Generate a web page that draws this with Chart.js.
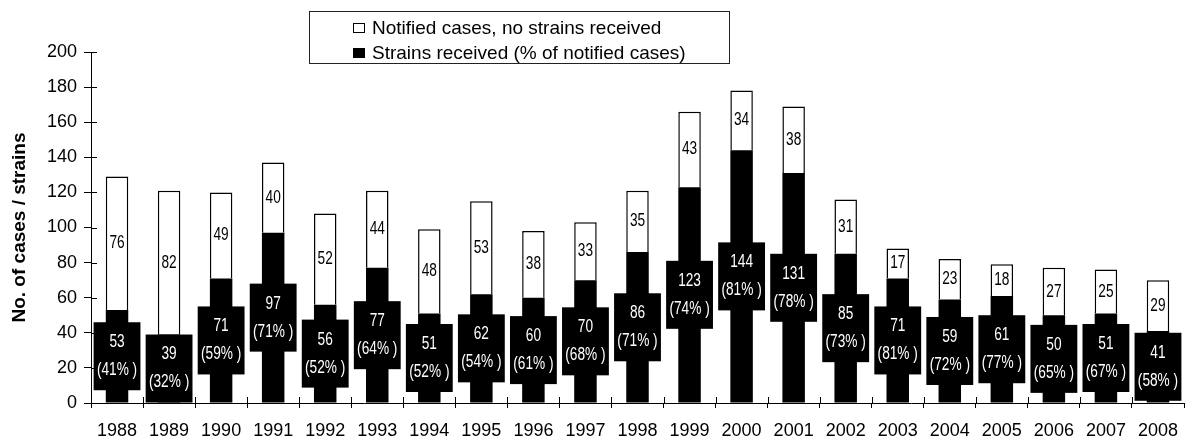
<!DOCTYPE html>
<html>
<head>
<meta charset="utf-8">
<title>Notified cases and strains received, 1988–2008</title>
<script src="https://cdn.jsdelivr.net/npm/chart.js@4.4.1/dist/chart.umd.min.js"></script>
<style>
  html, body { margin: 0; padding: 0; background: #fff; }
  #wrap { position: relative; width: 1190px; height: 442px; overflow: hidden; }
  #chart { position: absolute; left: 0; top: 0; }
  #legend {
    position: absolute; left: 309px; top: 11px; width: 421px; height: 53px;
    box-sizing: border-box; border: 1px solid #222; background: #fff;
    font-family: "Liberation Sans", Arial, sans-serif; font-size: 19px; color: #000;
  }
  #legend .row {
    position: absolute; left: 43px; height: 25px; line-height: 25px;
    display: flex; align-items: center; white-space: nowrap;
  }
  #legend .swatch {
    display: inline-block; width: 12px; height: 10px; box-sizing: border-box;
    border: 1px solid #000; margin-right: 7px;
  }
</style>
</head>
<body>
<div id="wrap">
  <canvas id="chart" width="1190" height="442"></canvas>
  <div id="legend"></div>
</div>
<script>
// Reporting years
const years = ['1988','1989','1990','1991','1992','1993','1994','1995','1996','1997','1998',
               '1999','2000','2001','2002','2003','2004','2005','2006','2007','2008'];

// Cases for which a strain was received
const strainsReceived = [53, 39, 71, 97, 56, 77, 51, 62, 60, 70, 86, 123, 144, 131, 85, 71, 59, 61, 50, 51, 41];

// Notified cases without a strain
const noStrains = [76, 82, 49, 40, 52, 44, 48, 53, 38, 33, 35, 43, 34, 38, 31, 17, 23, 18, 27, 25, 29];

// Strains received as a share of notified cases (%)
const strainPct = [41, 32, 59, 71, 52, 64, 52, 54, 61, 68, 71, 74, 81, 78, 73, 81, 72, 77, 65, 67, 58];

// Value axis
const yMin = 0, yMax = 200, yStep = 20;

const seriesNames = ['Notified cases, no strains received', 'Strains received (% of notified cases)'];
const axisTitle = 'No. of cases / strains';

// Value labels use a narrowed sans face
const labelFont = '18px "Liberation Sans", Arial, sans-serif';
const labelSqueeze = 0.76;

function narrowText(ctx, text, x, y) {
  ctx.save();
  ctx.translate(x, y);
  ctx.scale(labelSqueeze, 1);
  ctx.fillText(text, 0, 0);
  ctx.restore();
}

// Draws the value labels: a black box with count and share on the lower
// segment, and the count of the upper segment in its middle.
const barLabels = {
  id: 'barLabels',
  afterDatasetsDraw(chart) {
    const ctx = chart.ctx;
    const slot = chart.scales.x.width / chart.data.labels.length;
    const lower = chart.getDatasetMeta(0).data;
    const upper = chart.getDatasetMeta(1).data;
    ctx.save();
    ctx.font = labelFont;
    ctx.textAlign = 'center';
    ctx.textBaseline = 'middle';
    lower.forEach((bar, i) => {
      const cy = (bar.y + bar.base) / 2;
      const w = slot * 0.9, h = 68;
      ctx.fillStyle = '#000';
      ctx.fillRect(bar.x - w / 2, cy - h / 2, w, h);
      ctx.fillStyle = '#fff';
      narrowText(ctx, String(strainsReceived[i]), bar.x, cy - 14);
      narrowText(ctx, '(' + strainPct[i] + '% )', bar.x, cy + 14);
    });
    upper.forEach((bar, i) => {
      const cy = (bar.y + bar.base) / 2;
      ctx.fillStyle = '#000';
      narrowText(ctx, String(noStrains[i]), bar.x, cy);
    });
    ctx.restore();
  }
};

// Tick marks cross the axis lines: add the part inside the plot area.
const innerTicks = {
  id: 'innerTicks',
  afterDraw(chart) {
    const ctx = chart.ctx;
    const x = chart.scales.x, y = chart.scales.y;
    const area = chart.chartArea;
    ctx.save();
    ctx.strokeStyle = '#000';
    ctx.lineWidth = 1;
    ctx.beginPath();
    y.ticks.forEach(t => {
      const py = Math.round(y.getPixelForValue(t.value)) + 0.5;
      ctx.moveTo(area.left, py);
      ctx.lineTo(area.left + 6, py);
    });
    const n = chart.data.labels.length;
    const slot = x.width / n;
    for (let i = 0; i < n; i++) {
      const px = Math.round(x.left + i * slot) + 0.5;
      ctx.moveTo(px, area.bottom);
      ctx.lineTo(px, area.bottom - 6);
    }
    ctx.stroke();
    ctx.restore();
  }
};

new Chart(document.getElementById('chart'), {
  type: 'bar',
  data: {
    labels: years,
    datasets: [
      {
        label: seriesNames[1],
        data: strainsReceived,
        backgroundColor: '#000',
        borderWidth: 0,
        barPercentage: 0.432,
        categoryPercentage: 1
      },
      {
        label: seriesNames[0],
        data: noStrains,
        backgroundColor: '#fff',
        borderColor: '#000',
        borderWidth: 1.5,
        barPercentage: 0.432,
        categoryPercentage: 1
      }
    ]
  },
  options: {
    responsive: false,
    animation: false,
    devicePixelRatio: 1,
    layout: { padding: { top: 52, left: 0, right: 0, bottom: 0 } },
    plugins: {
      legend: { display: false },
      tooltip: { enabled: false }
    },
    scales: {
      x: {
        stacked: true,
        grid: { drawOnChartArea: false, drawTicks: true, tickLength: 5, color: '#000', offset: true },
        border: { display: true, color: '#000', width: 1 },
        ticks: {
          color: '#000', padding: 12, autoSkip: false, maxRotation: 0,
          font: { family: '"Liberation Sans", Arial, sans-serif', size: 18 }
        },
        afterFit(scale) { scale.height = 39; }
      },
      y: {
        stacked: true,
        min: yMin, max: yMax,
        grid: { drawOnChartArea: false, drawTicks: true, tickLength: 7, color: '#000' },
        border: { display: true, color: '#000', width: 1 },
        ticks: {
          stepSize: yStep, color: '#000', padding: 7,
          font: { family: '"Liberation Sans", Arial, sans-serif', size: 18 }
        },
        title: {
          display: true, text: axisTitle, color: '#000',
          font: { family: '"Liberation Sans", Arial, sans-serif', size: 19, weight: 'bold' },
          padding: { top: 8, bottom: 0 }
        },
        afterFit(scale) { scale.width = 91; }
      }
    }
  },
  plugins: [barLabels, innerTicks]
});

// Legend: open box for cases without strains, filled box for strains received
const legend = document.getElementById('legend');
[
  { text: seriesNames[0], fill: '#fff', top: 3 },
  { text: seriesNames[1], fill: '#000', top: 28 }
].forEach(item => {
  const row = document.createElement('div');
  row.className = 'row';
  row.style.top = item.top + 'px';
  const sw = document.createElement('span');
  sw.className = 'swatch';
  sw.style.background = item.fill;
  const tx = document.createElement('span');
  tx.textContent = item.text;
  row.appendChild(sw);
  row.appendChild(tx);
  legend.appendChild(row);
});
</script>
</body>
</html>
